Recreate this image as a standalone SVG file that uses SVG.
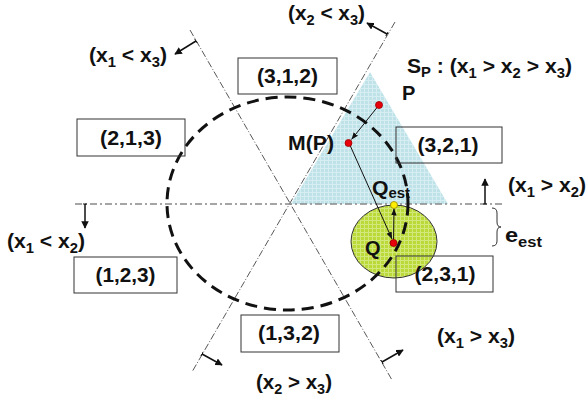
<svg xmlns="http://www.w3.org/2000/svg" width="587" height="402" viewBox="0 0 587 402">
<style>
.t{font-family:"Liberation Sans",Arial,sans-serif;font-weight:bold;font-size:20px;fill:#111}
.s{font-size:14px}
.box{fill:none;stroke:#333;stroke-width:1}
.dd{fill:none;stroke:#444;stroke-width:0.9;stroke-dasharray:7 2 1 2}
.hd{fill:none;stroke:#888;stroke-width:1.6;stroke-dasharray:7 3 2 3}
.arr{fill:none;stroke:#111;stroke-width:1.5;marker-end:url(#ah);marker-start:url(#tick)}
.con{fill:none;stroke:#111;stroke-width:1;marker-end:url(#ah2)}
.red{fill:#e8000b;stroke:#900;stroke-width:0.8}
</style>
<defs>
<marker id="ah" viewBox="0 0 10 10" refX="9" refY="5" markerWidth="5" markerHeight="5" orient="auto" markerUnits="strokeWidth">
<path d="M0,0 L10,5 L0,10 z" fill="#111"/>
</marker>
<marker id="ah2" viewBox="0 0 10 10" refX="10" refY="5" markerWidth="7" markerHeight="7" orient="auto" markerUnits="strokeWidth">
<path d="M0,1 L10,5 L0,9 z" fill="#111"/>
</marker>
<marker id="tick" viewBox="0 0 2 10" refX="1" refY="5" markerWidth="0.8" markerHeight="3.2" orient="auto" markerUnits="strokeWidth">
<rect x="0" y="0" width="2" height="10" fill="#111"/>
</marker>
<pattern id="gb" width="4" height="4" patternUnits="userSpaceOnUse">
<rect width="4" height="4" fill="#bfe2e9"/>
<path d="M0,0.5 H4 M0.5,0 V4" stroke="#d6eef2" stroke-width="1"/>
</pattern>
<pattern id="gg" width="4" height="4" patternUnits="userSpaceOnUse">
<rect width="4" height="4" fill="#bcd93a"/>
<path d="M0,0.5 H4 M0.5,0 V4" stroke="#d3e87a" stroke-width="1"/>
</pattern>
</defs>

<g id="region-sp">
<polygon points="370,72 291,204 448,204" fill="url(#gb)"/>
</g>
<g id="error-disc">
<ellipse cx="394" cy="241.5" rx="43" ry="36.5" fill="url(#gg)" stroke="#333" stroke-width="1"/>
</g>

<g id="boundaries">
<line class="dd" x1="190" y1="30" x2="392" y2="380"/>
<line class="dd" x1="395" y1="22" x2="192" y2="372"/>
<line class="hd" x1="75" y1="204" x2="505" y2="204"/>
</g>

<g id="orbit">
<ellipse cx="287.5" cy="203.5" rx="120.5" ry="106.5" fill="none" stroke="#111" stroke-width="3" stroke-dasharray="12 7"/>
</g>

<g id="box-312"><rect class="box" x="238" y="58" width="99" height="36"/><text class="t" x="287.5" y="83" text-anchor="middle" textLength="61" lengthAdjust="spacingAndGlyphs">(3,1,2)</text></g>
<g id="box-213"><rect class="box" x="77" y="119" width="108" height="37"/><text class="t" x="131" y="144.5" text-anchor="middle" textLength="62" lengthAdjust="spacingAndGlyphs">(2,1,3)</text></g>
<g id="box-321"><rect class="box" x="396" y="127" width="106" height="36"/><text class="t" x="448" y="152" text-anchor="middle" textLength="61" lengthAdjust="spacingAndGlyphs">(3,2,1)</text></g>
<g id="box-231"><rect class="box" x="396" y="256" width="97" height="36"/><text class="t" x="445" y="281" text-anchor="middle" textLength="61" lengthAdjust="spacingAndGlyphs">(2,3,1)</text></g>
<g id="box-123"><rect class="box" x="74" y="257" width="103" height="36"/><text class="t" x="125.5" y="282" text-anchor="middle" textLength="60" lengthAdjust="spacingAndGlyphs">(1,2,3)</text></g>
<g id="box-132"><rect class="box" x="241" y="315" width="98" height="37"/><text class="t" x="289" y="340" text-anchor="middle" textLength="62" lengthAdjust="spacingAndGlyphs">(1,3,2)</text></g>

<g id="connectors">
<line class="arr" x1="387" y1="34" x2="367" y2="23"/>
<line class="arr" x1="196" y1="41" x2="175" y2="54"/>
<line class="arr" x1="485" y1="204" x2="485" y2="179"/>
<line class="arr" x1="85" y1="204" x2="85" y2="228"/>
<line class="arr" x1="382" y1="362" x2="403" y2="350"/>
<line class="arr" x1="202" y1="354" x2="222" y2="365"/>
<line class="con" x1="379" y1="105" x2="351.5" y2="139.5"/>
<line class="con" x1="349" y1="143" x2="392" y2="239"/>
<line class="con" x1="393.5" y1="243" x2="394" y2="208.5"/>
<path d="M492,208 Q497,208 497,213 V222 Q497,227 501,227 Q497,227 497,232 V241 Q497,246 492,246" fill="none" stroke="#333" stroke-width="1"/>
</g>

<g id="points">
<circle class="red" cx="379" cy="105" r="3.5"/>
<circle class="red" cx="348.5" cy="143" r="3.5"/>
<circle class="red" cx="393.5" cy="243" r="3.5"/>
<circle cx="394" cy="205" r="3.5" fill="#ffee00" stroke="#998800" stroke-width="0.8"/>
</g>

<g id="labels">
<text class="t" x="402" y="100">P</text>
<text class="t" x="288" y="150" textLength="46" lengthAdjust="spacingAndGlyphs">M(P)</text>
<text class="t" x="372" y="195" textLength="38" lengthAdjust="spacingAndGlyphs">Q<tspan class="s" dy="3">est</tspan></text>
<text class="t" x="365" y="255">Q</text>
<text class="t" x="505" y="242" textLength="37" lengthAdjust="spacingAndGlyphs">e<tspan class="s" dy="5">est</tspan></text>
<text class="t" x="407" y="73" textLength="165" lengthAdjust="spacingAndGlyphs">S<tspan class="s" dy="4">P</tspan><tspan dy="-4"> : (x</tspan><tspan class="s" dy="5">1</tspan><tspan dy="-5"> &gt; x</tspan><tspan class="s" dy="5">2</tspan><tspan dy="-5"> &gt; x</tspan><tspan class="s" dy="5">3</tspan><tspan dy="-5">)</tspan></text>
<text class="t" x="288" y="20" textLength="77" lengthAdjust="spacingAndGlyphs">(x<tspan class="s" dy="5">2</tspan><tspan dy="-5"> &lt; x</tspan><tspan class="s" dy="5">3</tspan><tspan dy="-5">)</tspan></text>
<text class="t" x="89" y="62" textLength="78" lengthAdjust="spacingAndGlyphs">(x<tspan class="s" dy="5">1</tspan><tspan dy="-5"> &lt; x</tspan><tspan class="s" dy="5">3</tspan><tspan dy="-5">)</tspan></text>
<text class="t" x="508" y="192" textLength="78" lengthAdjust="spacingAndGlyphs">(x<tspan class="s" dy="5">1</tspan><tspan dy="-5"> &gt; x</tspan><tspan class="s" dy="5">2</tspan><tspan dy="-5">)</tspan></text>
<text class="t" x="7" y="248" textLength="78" lengthAdjust="spacingAndGlyphs">(x<tspan class="s" dy="5">1</tspan><tspan dy="-5"> &lt; x</tspan><tspan class="s" dy="5">2</tspan><tspan dy="-5">)</tspan></text>
<text class="t" x="437" y="343" textLength="78" lengthAdjust="spacingAndGlyphs">(x<tspan class="s" dy="5">1</tspan><tspan dy="-5"> &gt; x</tspan><tspan class="s" dy="5">3</tspan><tspan dy="-5">)</tspan></text>
<text class="t" x="256" y="389" textLength="76" lengthAdjust="spacingAndGlyphs">(x<tspan class="s" dy="5">2</tspan><tspan dy="-5"> &gt; x</tspan><tspan class="s" dy="5">3</tspan><tspan dy="-5">)</tspan></text>
</g>
</svg>
